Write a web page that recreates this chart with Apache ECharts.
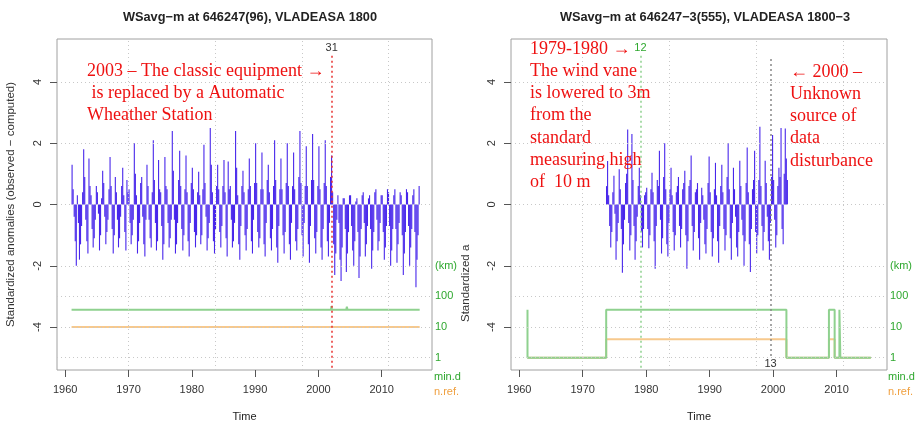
<!DOCTYPE html>
<html>
<head>
<meta charset="utf-8">
<script src="https://cdn.jsdelivr.net/npm/echarts@6/dist/echarts.min.js"></script>
<style>
  html, body { margin: 0; background: #fff; }
  #main { width: 917px; height: 427px; }
</style>
</head>
<body>
<div id="main"></div>
<script>
  // standardized anomalies, 6 values a year (bi-monthly)
  const leftStart = 1961.0
  const leftAnom = [
    [1.3, 0.5, -0.4, -1.2, -2.0, 0.3],
    [-0.6, -1.8, -1.3, -0.7, 0.4, 1.8],
    [0.9, -0.5, -1.2, -1.6, 1.5, 0.6],
    [0.3, -0.8, -1.4, -1.1, -0.5, 0.6],
    [0.4, -0.3, -1.5, -1.0, 0.2, 1.1],
    [0.7, -0.4, -1.3, -0.9, -0.5, 0.5],
    [1.55, 0.6, -0.8, -1.6, -1.0, 0.9],
    [0.4, -0.5, -1.4, -1.1, -0.4, 0.6],
    [1.2, 0.3, -0.9, -1.5, 0.8, 0.4],
    [0.5, -0.6, -1.3, -1.0, -0.5, 2.0],
    [1.0, 0.3, -1.6, -1.2, -0.6, 0.7],
    [0.9, -0.4, -1.3, -1.7, -0.5, 1.3],
    [0.6, -0.5, -1.1, -1.4, 0.4, 2.1],
    [0.8, -0.6, -1.5, -1.2, 1.45, 0.5],
    [0.4, -0.7, -1.8, -1.3, 1.55, 0.6],
    [0.5, -0.6, -1.4, -1.1, -0.5, 2.4],
    [1.1, -0.5, -1.6, -1.3, -0.6, 0.8],
    [1.75, 0.6, -0.8, -1.5, -1.0, 0.5],
    [1.6, 0.4, -1.2, -1.7, -0.6, 0.7],
    [1.2, 0.5, -0.9, -1.4, -1.0, 0.4],
    [1.07, 0.3, -1.3, -1.0, 0.5, 1.95],
    [0.7, -0.4, -1.5, -1.1, -0.6, 2.5],
    [1.3, 0.4, -1.2, -1.6, -0.8, 0.6],
    [1.3, 0.5, -0.9, -1.4, -0.7, 0.6],
    [1.45, 0.4, -1.1, -1.7, 1.4, 0.5],
    [0.6, -0.5, -1.4, -1.2, -0.6, 2.4],
    [1.2, 0.3, -1.3, -1.8, -0.7, 0.6],
    [1.1, 0.4, -1.0, -1.5, -0.8, 0.5],
    [1.5, 0.6, -1.2, -1.6, -0.5, 0.7],
    [2.0, 0.7, -0.9, -1.4, -1.1, 0.5],
    [1.7, 0.5, -1.3, -1.7, -0.6, 0.8],
    [1.3, 0.4, -1.1, -1.5, -0.8, 0.6],
    [2.1, 0.8, -1.4, -1.9, -0.7, 0.5],
    [1.5, 0.5, -1.0, -1.6, -0.9, 0.7],
    [2.0, 0.6, -1.3, -1.8, -0.6, 0.6],
    [1.7, 0.5, -1.2, -1.5, -0.8, 0.9],
    [2.4, 0.7, -1.0, -1.7, -0.6, 0.6],
    [1.9, 0.6, -1.3, -1.9, -0.7, 0.8],
    [2.3, 0.8, -1.1, -1.6, -0.9, 0.6],
    [1.9, 0.5, -1.4, -1.8, -0.8, 0.7],
    [2.1, 0.6, -1.2, -1.7, -0.6, 0.9],
    [1.6, 0.4, -1.3, -2.3, -1.6, -0.5],
    [0.3, -0.6, -1.8, -2.5, -1.4, 0.2],
    [0.2, -0.8, -2.2, -1.6, -0.9, 0.3],
    [0.3, -0.7, -1.5, -2.0, -1.2, 0.1],
    [0.2, -0.9, -2.4, -1.7, -0.8, 0.3],
    [0.4, -0.6, -1.7, -1.3, -0.7, 0.2],
    [0.3, -0.8, -2.1, -1.5, -0.9, 0.4],
    [0.5, -0.5, -1.5, -1.2, -0.6, 0.3],
    [0.3, -0.9, -1.8, -1.4, -0.7, 0.5],
    [0.4, -0.7, -2.0, -1.5, -0.8, 0.3],
    [0.5, -0.8, -1.9, -1.3, -0.6, 0.4],
    [0.3, -1.0, -2.3, -1.6, -0.9, 0.5],
    [0.4, -0.7, -2.0, -1.4, -0.8, 0.3],
    [0.5, -0.9, -2.7, -1.8, -1.0, 0.6]
  ]
  const rightStart = 1973.67
  const rightAnom = [
    [0.6, 1.42, 0.3, -0.7, -1.4, -0.9],
    [0.4, 0.94, -0.3, -1.8, -1.2, -0.6],
    [1.15, 0.5, -0.8, -2.23, -1.3, -0.5],
    [0.7, 1.0, 2.45, -0.6, -1.5, -1.0],
    [2.3, 0.8, -0.7, -1.8, -1.2, -0.4],
    [0.6, 1.2, 0.3, -0.9, -1.4, -0.8],
    [0.3, 0.4, 0.55, -0.8, -1.43, -1.0],
    [0.5, 1.04, 0.4, -1.2, -2.1, -0.7],
    [0.8, 0.6, 1.75, -0.5, -1.6, -1.1],
    [0.9, 2.0, 0.5, -1.3, -1.7, -0.6],
    [0.5, 1.2, 0.3, -0.9, -1.5, -1.0],
    [0.4, 0.6, 0.9, -0.7, -1.4, -0.8],
    [0.5, 0.7, 1.1, -1.0, -2.1, -1.2],
    [0.6, 0.8, 1.6, -0.7, -1.5, -0.9],
    [0.4, 0.5, 0.7, -1.1, -1.8, -0.6],
    [0.55, 0.3, -0.5, -1.3, -1.6, -0.8],
    [0.7, 1.57, 0.4, -0.9, -1.7, -1.1],
    [0.5, 1.36, 0.3, -1.2, -1.9, -0.7],
    [0.6, 1.3, 0.4, -0.8, -1.5, -1.0],
    [0.9, 2.0, 0.5, -1.1, -1.8, -0.6],
    [1.2, 0.5, -0.4, -1.4, -1.7, -0.9],
    [1.43, 0.6, -0.5, -1.0, -2.0, -1.2],
    [0.7, 1.86, 0.4, -1.3, -2.2, -0.8],
    [0.5, 0.8, 1.75, -0.9, -1.6, -1.0],
    [0.8, 2.54, 0.6, -0.7, -1.5, -0.9],
    [1.43, 0.7, -0.4, -1.2, -1.8, -0.6],
    [0.9, 2.27, 0.8, -0.5, -1.4, -1.0],
    [0.6, 1.2, 0.9, 2.5, -0.8, -1.3],
    [1.0, 2.48, 1.5, 0.8]
  ]

  // min. distance to nearest reference (km) and number of references, [year, value]
  const leftMinDist = [[1961, 37], [2002.0, 37], [2002.05, 48], [2002.15, 37], [2004.4, 37], [2004.5, 46], [2004.6, 37], [2016, 37]]
  const leftNRef = [[1961, 10], [2016, 10]]
  const rightMinDist = [[1961.3, 37], [1961.3, 1], [1973.7, 1], [1973.7, 37], [2002.1, 37], [2002.1, 1], [2008.8, 1], [2008.8, 37],
    [2009.7, 37], [2009.7, 1], [2010.45, 1], [2010.45, 37], [2010.6, 37], [2010.6, 1], [2015.4, 1]]
  const rightNRef = [[1961.3, 1], [1973.7, 1], [1973.7, 4], [2002.1, 4], [2002.1, 1], [2008.8, 1], [2008.8, 4], [2009.7, 4],
    [2009.7, 1], [2015.4, 1]]

  const yearTicks = [1960, 1970, 1980, 1990, 2000, 2010]
  const gridYears = [1970, 1983.7, 1997.4, 2011.1]
  const gridLevels = [-5, -4, -3, -2, 0, 2, 4]
  const yTicks = [-4, -2, 0, 2, 4]
  const kmTicks = [-5, -4, -3, -2]
  const kmLabels = ['1', '10', '100', '(km)']

  const SANS = 'Liberation Sans, Arial, sans-serif'
  const SERIF = 'Liberation Serif, Times New Roman, serif'
  const GREEN = '#2fa82f'
  const ORANGE = '#f0a040'

  // km / counts are drawn on a log scale under the anomalies: 1 -> -5, 10 -> -4 ...
  const toLog = pts => pts.map(p => [p[0], -5 + Math.log10(p[1])])
  const flat = (rows, start) => rows.flat().map((v, i) => [start + (i + 0.5) / 6, v])

  function spikes(params, api) {
    let x = api.value(0)
    let top = api.coord([x, api.value(1)])
    let base = api.coord([x, 0])
    return {
      type: 'line',
      shape: { x1: base[0], y1: base[1], x2: top[0], y2: top[1] },
      style: { stroke: 'rgba(40,0,232,0.85)', lineWidth: 1.1 }
    }
  }

  function timeAxis(gi) {
    return {
      type: 'value', gridIndex: gi, min: 1958.7, max: 2017.95,
      axisLine: { show: false, onZero: false },
      axisTick: { show: true, customValues: yearTicks, length: 7, lineStyle: { color: '#555' } },
      axisLabel: { customValues: yearTicks, color: '#333', fontSize: 11, margin: 14, fontFamily: SANS, formatter: v => String(v) },
      splitLine: { show: false },
      name: 'Time', nameLocation: 'middle', nameGap: 41,
      nameTextStyle: { color: '#222', fontSize: 11, fontFamily: SANS }
    }
  }
  function anomAxis(gi, withName) {
    return {
      type: 'value', gridIndex: gi, min: -5.4, max: 5.4, position: 'left',
      axisLine: { show: false, onZero: false },
      axisTick: { show: true, customValues: yTicks, length: 7, lineStyle: { color: '#555' } },
      axisLabel: { customValues: yTicks, rotate: 90, color: '#333', fontSize: 11, margin: 14, fontFamily: SANS, formatter: v => String(v) },
      splitLine: { show: false },
      name: withName ? 'Standardized anomalies (observed \u2212 computed)' : '',
      nameLocation: 'middle', nameGap: 40,
      nameTextStyle: { color: '#333', fontSize: 11.5, fontFamily: SANS }
    }
  }
  function kmAxis(gi) {
    return {
      type: 'value', gridIndex: gi, min: -5.4, max: 5.4, position: 'right',
      axisLine: { show: false, onZero: false }, axisTick: { show: false }, splitLine: { show: false },
      axisLabel: { customValues: kmTicks, color: GREEN, fontSize: 11, margin: 3, fontFamily: SANS,
        formatter: v => kmLabels[kmTicks.indexOf(v)] }
    }
  }
  function gridSeries(xi, yi) {
    return {
      type: 'line', xAxisIndex: xi, yAxisIndex: yi, data: [], silent: true, z: 1,
      markLine: {
        silent: true, symbol: 'none', animation: false, label: { show: false },
        lineStyle: { type: [1, 3], color: '#c8c8c8', width: 1 },
        data: gridYears.map(x => ({ xAxis: x })).concat(gridLevels.map(y => ({ yAxis: y })))
      }
    }
  }
  function breakSeries(xi, yi, year, y1, y2, color, text, textColor, pos) {
    return {
      type: 'line', xAxisIndex: xi, yAxisIndex: yi, data: [], silent: true, z: 4,
      markLine: {
        silent: true, symbol: 'none', animation: false,
        lineStyle: { type: [2, 3], color: color, width: 1.5 },
        label: { show: true, position: pos, formatter: text, color: textColor, fontSize: 11, fontFamily: SANS, distance: 2 },
        data: [[{ coord: [year, y1] }, { coord: [year, y2] }]]
      }
    }
  }
  function stepLine(xi, yi, pts, color) {
    return {
      type: 'line', xAxisIndex: xi, yAxisIndex: yi, data: toLog(pts), symbol: 'none', silent: true, z: 3,
      lineStyle: { color: color, width: 2 }, animation: false
    }
  }

  let myChart = echarts.init(document.getElementById('main'))
  let option = {
    animation: false,
    title: [
      { text: 'WSavg\u2212m at 646247(96), VLADEASA 1800', left: 245, top: 6, textAlign: 'center',
        textStyle: { fontSize: 12.75, fontWeight: 'bold', color: '#222', fontFamily: SANS } },
      { text: 'WSavg\u2212m at 646247\u22123(555), VLADEASA 1800\u22123', left: 700, top: 6, textAlign: 'center',
        textStyle: { fontSize: 12.75, fontWeight: 'bold', color: '#222', fontFamily: SANS } }
    ],
    grid: [
      { left: 57, top: 39, width: 375, height: 336, show: true, borderColor: '#a0a0a0', borderWidth: 1 },
      { left: 511, top: 39, width: 376, height: 336, show: true, borderColor: '#a0a0a0', borderWidth: 1 }
    ],
    xAxis: [timeAxis(0), timeAxis(1)],
    yAxis: [anomAxis(0, true), kmAxis(0), anomAxis(1, false), kmAxis(1)],
    series: [
      gridSeries(0, 0),
      gridSeries(1, 2),
      { type: 'custom', xAxisIndex: 0, yAxisIndex: 0, renderItem: spikes, data: flat(leftAnom, leftStart),
        encode: { x: 0, y: 1 }, clip: true, z: 2, silent: true },
      { type: 'custom', xAxisIndex: 1, yAxisIndex: 2, renderItem: spikes, data: flat(rightAnom, rightStart),
        encode: { x: 0, y: 1 }, clip: true, z: 2, silent: true },
      stepLine(0, 0, leftNRef, '#f7c98d'),
      stepLine(0, 0, leftMinDist, '#8fd18f'),
      stepLine(1, 2, rightNRef, '#f7c98d'),
      stepLine(1, 2, rightMinDist, '#8fd18f'),
      breakSeries(0, 0, 2002.1, 4.85, -5.4, '#e8312f', '31', '#333', 'start'),
      breakSeries(1, 2, 1979.1, 4.85, -5.4, '#8fd18f', '12', GREEN, 'start'),
      breakSeries(1, 2, 1999.6, 4.75, -4.95, '#888', '13', '#333', 'end')
    ],
    graphic: [
      { type: 'text', left: 434, top: 371, z: 100, style: { text: 'min.d', fill: GREEN, font: '11px ' + SANS } },
      { type: 'text', left: 434, top: 386, z: 100, style: { text: 'n.ref.', fill: ORANGE, font: '11px ' + SANS } },
      { type: 'text', left: 888, top: 371, z: 100, style: { text: 'min.d', fill: GREEN, font: '11px ' + SANS } },
      { type: 'text', left: 888, top: 386, z: 100, style: { text: 'n.ref.', fill: ORANGE, font: '11px ' + SANS } },
      { type: 'text', x: 466, y: 322, rotation: Math.PI / 2, z: 100,
        style: { text: 'Standardized a', fill: '#333', font: '11.5px ' + SANS, verticalAlign: 'middle' } },
      { type: 'text', left: 87, top: 60, z: 100,
        style: { text: '2003 \u2013 The classic equipment \u2192\n is replaced by a Automatic\nWheather Station',
          fill: '#ee1111', font: '18px ' + SERIF, lineHeight: 22 } },
      { type: 'text', left: 530, top: 38, z: 100,
        style: { text: '1979-1980 \u2192\nThe wind vane\nis lowered to 3m\nfrom the\nstandard\nmeasuring high\nof  10 m',
          fill: '#ee1111', font: '18px ' + SERIF, lineHeight: 22.2 } },
      { type: 'text', left: 790, top: 61, z: 100,
        style: { text: '\u2190 2000 \u2013\nUnknown\nsource of\ndata\ndisturbance',
          fill: '#ee1111', font: '18px ' + SERIF, lineHeight: 22.2 } }
    ]
  }
  myChart.setOption(option)
</script>
</body>
</html>
